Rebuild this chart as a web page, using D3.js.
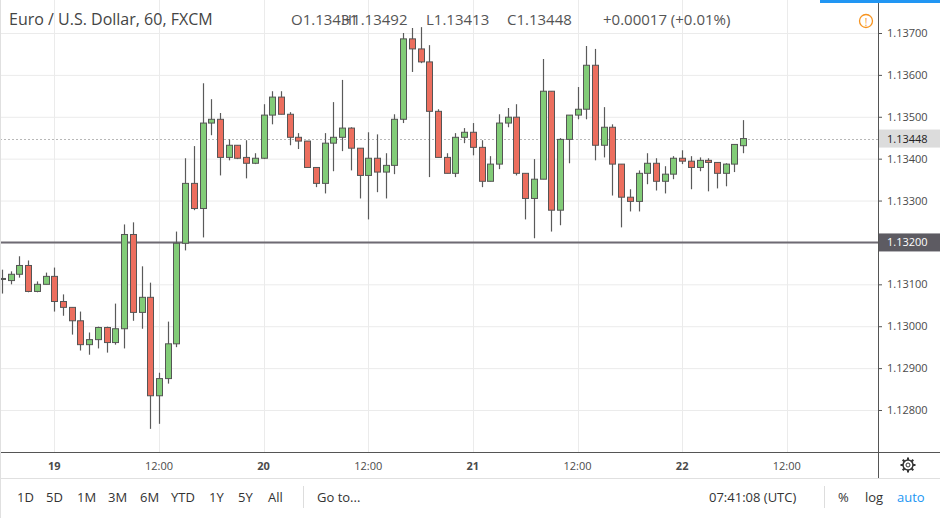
<!DOCTYPE html>
<html><head><meta charset="utf-8">
<script src="https://cdn.jsdelivr.net/npm/d3@7"></script>
<style>body{margin:0;background:#fff;font-family:"Open Sans",Roboto,sans-serif}</style>
</head><body><svg id="c" width="940" height="518"></svg>
<script>
const opens  =[1.13112,1.13109,1.13124,1.13145,1.13083,1.13100,1.13119,1.13059,1.13045,1.13013,1.12956,1.12968,1.12997,1.12961,1.12994,1.13219,1.13033,1.13069,1.12834,1.12875,1.12958,1.13198,1.13341,1.13281,1.13485,1.13494,1.13403,1.13432,1.13403,1.13389,1.13401,1.13504,1.13547,1.13506,1.13451,1.13442,1.13379,1.13341,1.13437,1.13451,1.13473,1.13425,1.13360,1.13401,1.13368,1.13384,1.13494,1.13686,1.13662,1.13631,1.13513,1.13403,1.13365,1.13451,1.13463,1.13427,1.13346,1.13387,1.13485,1.13499,1.13365,1.13305,1.13351,1.13561,1.13277,1.13446,1.13504,1.13518,1.13623,1.13432,1.13475,1.13387,1.13308,1.13298,1.13365,1.13389,1.13346,1.13363,1.13401,1.13394,1.13379,1.13396,1.13391,1.13365,1.13387,1.13431];
const highs  =[1.13135,1.13131,1.13167,1.13157,1.13107,1.13128,1.13140,1.13076,1.13045,1.13035,1.12985,1.12999,1.12999,1.13054,1.13243,1.13248,1.13143,1.13104,1.12889,1.13011,1.13226,1.13401,1.13430,1.13580,1.13542,1.13509,1.13446,1.13432,1.13444,1.13413,1.13530,1.13561,1.13561,1.13511,1.13461,1.13442,1.13379,1.13461,1.13535,1.13588,1.13475,1.13425,1.13463,1.13458,1.13413,1.13506,1.13700,1.13712,1.13714,1.13671,1.13518,1.13413,1.13461,1.13473,1.13485,1.13444,1.13406,1.13506,1.13521,1.13530,1.13365,1.13399,1.13638,1.13561,1.13449,1.13504,1.13571,1.13669,1.13662,1.13523,1.13482,1.13387,1.13327,1.13372,1.13413,1.13401,1.13382,1.13406,1.13420,1.13406,1.13403,1.13401,1.13391,1.13389,1.13434,1.13492];
const lows   =[1.13078,1.13100,1.13116,1.13081,1.13081,1.13100,1.13035,1.13025,1.12980,1.12942,1.12932,1.12947,1.12937,1.12956,1.12947,1.13013,1.12994,1.12755,1.12767,1.12863,1.12950,1.13181,1.13277,1.13212,1.13456,1.13360,1.13396,1.13399,1.13353,1.13387,1.13399,1.13482,1.13506,1.13432,1.13423,1.13379,1.13332,1.13317,1.13370,1.13418,1.13372,1.13305,1.13255,1.13320,1.13305,1.13363,1.13485,1.13607,1.13628,1.13356,1.13403,1.13365,1.13356,1.13437,1.13408,1.13332,1.13346,1.13375,1.13475,1.13360,1.13255,1.13210,1.13351,1.13226,1.13241,1.13389,1.13494,1.13494,1.13396,1.13403,1.13312,1.13236,1.13274,1.13274,1.13339,1.13324,1.13317,1.13351,1.13387,1.13327,1.13370,1.13322,1.13329,1.13334,1.13368,1.13413];
const closes =[1.13114,1.13124,1.13145,1.13083,1.13100,1.13119,1.13059,1.13045,1.13013,1.12956,1.12968,1.12997,1.12961,1.12994,1.13219,1.13033,1.13069,1.12834,1.12875,1.12958,1.13198,1.13341,1.13281,1.13485,1.13494,1.13403,1.13432,1.13401,1.13389,1.13401,1.13504,1.13547,1.13506,1.13451,1.13442,1.13379,1.13341,1.13437,1.13451,1.13473,1.13425,1.13360,1.13401,1.13368,1.13384,1.13494,1.13686,1.13662,1.13631,1.13513,1.13403,1.13365,1.13451,1.13463,1.13427,1.13346,1.13387,1.13485,1.13499,1.13365,1.13305,1.13351,1.13561,1.13277,1.13446,1.13504,1.13518,1.13623,1.13432,1.13475,1.13387,1.13308,1.13298,1.13365,1.13389,1.13346,1.13363,1.13401,1.13394,1.13379,1.13396,1.13391,1.13365,1.13387,1.13434,1.13448];
const timeTickIdx=[6,18,30,42,54,66,78,90];
const timeTickLabels=["19","12:00","20","12:00","21","12:00","22","12:00"];
const priceTicks=[1.128,1.129,1.130,1.131,1.132,1.133,1.134,1.135,1.136,1.137];
const hLineLevel=1.132;
const lastPrice=1.13448;
const ranges=["1D","5D","1M","3M","6M","YTD","1Y","5Y","All"];
const legendParts=["O1.13431","H1.13492","L1.13413","C1.13448","+0.00017 (+0.01%)"];

const svg=d3.select("#c");
const W=878,H=452;
const x=d3.scaleLinear().domain([0,100]).range([2,2+100*8.72]);
const y=d3.scaleLinear().domain([1.128,1.137]).range([410,33]);
const data=opens.map((o,i)=>({i,o,h:highs[i],l:lows[i],c:closes[i]}));

const g=svg.append("g");
g.selectAll(".hg").data(priceTicks).join("line").attr("x1",0).attr("x2",W)
 .attr("y1",d=>y(d)+.5).attr("y2",d=>y(d)+.5).attr("stroke","#ebebeb");
g.selectAll(".vg").data(timeTickIdx).join("line").attr("y1",0).attr("y2",H)
 .attr("x1",d=>Math.round(x(d))+.5).attr("x2",d=>Math.round(x(d))+.5).attr("stroke","#ebebeb");
g.append("line").attr("x1",0).attr("x2",W).attr("y1",Math.round(y(lastPrice))+.5).attr("y2",Math.round(y(lastPrice))+.5)
 .attr("stroke","#b8b8b8").attr("stroke-dasharray","2,2");
g.append("line").attr("x1",0).attr("x2",W).attr("y1",y(hLineLevel)).attr("y2",y(hLineLevel))
 .attr("stroke","#6e6a73").attr("stroke-width",2);
const cg=g.selectAll(".cd").data(data).join("g");
cg.append("line").attr("x1",d=>Math.round(x(d.i))+.5).attr("x2",d=>Math.round(x(d.i))+.5)
 .attr("y1",d=>y(d.h)).attr("y2",d=>y(d.l)).attr("stroke","#5a5a5a").attr("stroke-width",1.2);
cg.append("rect").attr("x",d=>Math.round(x(d.i))-2.5).attr("width",6)
 .attr("y",d=>y(Math.max(d.o,d.c))).attr("height",d=>Math.max(1,Math.abs(y(d.o)-y(d.c))))
 .attr("fill",d=>d.c>=d.o?"#82cc78":"#ec6e5e").attr("stroke","#555").attr("stroke-width",1);

svg.append("line").attr("x1",W+.5).attr("x2",W+.5).attr("y1",0).attr("y2",478).attr("stroke","#555");
svg.append("line").attr("x1",0).attr("x2",940).attr("y1",H+.5).attr("y2",H+.5).attr("stroke","#555");
svg.append("line").attr("x1",0).attr("x2",940).attr("y1",478.5).attr("y2",478.5).attr("stroke","#e0e0e0");
svg.append("line").attr("x1",.5).attr("x2",.5).attr("y1",0).attr("y2",518).attr("stroke","#e0e0e0");

const ax=svg.append("g").attr("transform",`translate(${W},0)`);
ax.selectAll("text.p").data(priceTicks).join("text").attr("x",9).attr("y",d=>y(d)+4)
 .attr("font-size",11).attr("fill","#4a4a4a").text(d=>d3.format(".5f")(d));
ax.selectAll("line.t").data(priceTicks).join("line").attr("x1",0).attr("x2",4)
 .attr("y1",d=>y(d)+.5).attr("y2",d=>y(d)+.5).attr("stroke","#555");
function tag(v,bg,fg){
 const yy=y(v);
 ax.append("rect").attr("x",1).attr("y",yy-9).attr("width",61).attr("height",18).attr("fill",bg);
 ax.append("text").attr("x",9).attr("y",yy+4).attr("font-size",11).attr("fill",fg).text(d3.format(".5f")(v));
}
tag(lastPrice,"#dcdcdc","#222");
tag(hLineLevel,"#5d5b62","#fff");

svg.selectAll(".tl").data(timeTickIdx).join("text").attr("x",(d)=>x(d)).attr("y",470)
 .attr("text-anchor","middle").attr("font-size",11).attr("fill","#4a4a4a")
 .attr("font-weight",(d,i)=>timeTickLabels[i].includes(":")?400:700).text((d,i)=>timeTickLabels[i]);
const gear=svg.append("g").attr("transform","translate(908,465)");
gear.append("circle").attr("r",5).attr("fill","none").attr("stroke","#333").attr("stroke-width",1.5);
gear.append("circle").attr("r",2).attr("fill","none").attr("stroke","#333");
for(let a=0;a<8;a++){gear.append("line").attr("x1",0).attr("y1",-5).attr("x2",0).attr("y2",-7.5)
 .attr("stroke","#333").attr("stroke-width",2).attr("transform",`rotate(${a*45})`);}

svg.append("text").attr("x",9).attr("y",25).attr("font-size",16).attr("fill","#444").text("Euro / U.S. Dollar, 60, FXCM");
const lx=[291,341,426,507,603];
svg.selectAll(".lg").data(legendParts).join("text").attr("x",(d,i)=>lx[i]).attr("y",25)
 .attr("font-size",15).attr("fill","#555").text(d=>d);
svg.append("circle").attr("cx",866).attr("cy",21).attr("r",6.5).attr("fill","none").attr("stroke","#f7931e").attr("stroke-width",1.3);
svg.append("text").attr("x",866).attr("y",25.5).attr("text-anchor","middle").attr("font-size",10).attr("fill","#f7931e").text("!");
svg.append("rect").attr("x",820).attr("y",0).attr("width",120).attr("height",3).attr("fill","#2196f3");

const rx=[17,46,77,108,140,171,209,238,268];
svg.selectAll(".rg").data(ranges).join("text").attr("x",(d,i)=>rx[i]).attr("y",502)
 .attr("font-size",13).attr("fill","#333").text(d=>d);
svg.append("line").attr("x1",303.5).attr("x2",303.5).attr("y1",486).attr("y2",508).attr("stroke","#ddd");
svg.append("text").attr("x",317).attr("y",502).attr("font-size",13).attr("fill","#333").text("Go to...");
svg.append("text").attr("x",709).attr("y",502).attr("font-size",13).attr("fill","#333").text("07:41:08 (UTC)");
svg.append("line").attr("x1",824.5).attr("x2",824.5).attr("y1",486).attr("y2",508).attr("stroke","#ddd");
svg.append("text").attr("x",838).attr("y",502).attr("font-size",13).attr("fill","#333").text("%");
svg.append("text").attr("x",865).attr("y",502).attr("font-size",13).attr("fill","#333").text("log");
svg.append("text").attr("x",897).attr("y",502).attr("font-size",13).attr("fill","#2196f3").text("auto");
</script></body></html>
